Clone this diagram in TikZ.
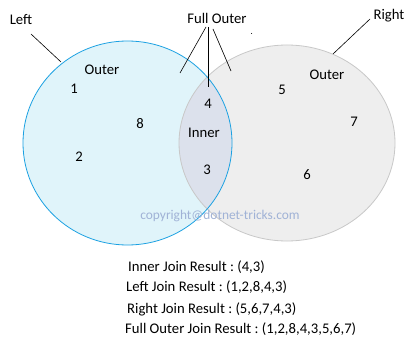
\documentclass[tikz,border=0pt]{standalone}
\usepackage{fontspec}
\setmainfont{Carlito}
\frenchspacing
\begin{document}
\begin{tikzpicture}[x=1pt,y=-1pt,
  lbl/.style={font=\fontsize{14.7}{17}\selectfont, inner sep=0pt},
  res/.style={font=\fontsize{14.7}{17}\selectfont\frenchspacing, inner sep=0pt, anchor=west},
  ptr/.style={draw=black, line width=0.6pt}]
\useasboundingbox (0,0) rectangle (409,339);
\fill[white] (0,0) rectangle (409,339);
% circles
\fill[fill={rgb,255:red,224;green,244;blue,250}] (127.5,143) ellipse [x radius=104.5, y radius=102];
\fill[fill={rgb,255:red,238;green,238;blue,238}] (287,143) ellipse [x radius=108, y radius=98];
\begin{scope}
  \clip (127.5,143) ellipse [x radius=104.5, y radius=102];
  \fill[fill={rgb,255:red,220;green,225;blue,236}] (287,143) ellipse [x radius=108, y radius=98];
\end{scope}
\draw[draw={rgb,255:red,200;green,200;blue,200}, line width=0.8pt] (287,143) ellipse [x radius=108, y radius=98];
\draw[draw={rgb,255:red,27;green,161;blue,226}, line width=0.8pt] (127.5,143) ellipse [x radius=104.5, y radius=102];
% labels
\node[lbl] (left) at (21,20) {Left};
\node[lbl] (full) at (217,18) {Full Outer};
\node[lbl] (right) at (389,16) {Right};
\coordinate (lp) at (61,62);
\coordinate (f1) at (180,73);
\coordinate (f2) at (208,87);
\coordinate (f3) at (231,71);
\coordinate (rp) at (333,54);
\draw[ptr] (31,34) -- (lp);
\draw[ptr] (206,27) -- (f1);
\draw[ptr] (208,27) -- (f2);
\draw[ptr] (213,29) -- (f3);
\draw[ptr] (370,19) -- (rp);
\fill (251.5,33.5) circle (0.5);
\node[lbl] (louter) at (102,70) {Outer};
\node[lbl] (n1) at (74,89) {1};
\node[lbl] (n8) at (140,124) {8};
\node[lbl] (n2) at (79,157) {2};
\node[lbl] (n4) at (208,104) {4};
\node[lbl] (inner) at (204,133) {Inner};
\node[lbl] (n3) at (207,170) {3};
\node[lbl] (n5) at (282,90) {5};
\node[lbl] (routers) at (327,75) {Outer};
\node[lbl] (n7) at (354,122) {7};
\node[lbl] (n6) at (307,175) {6};
\node[font=\fontsize{13.4}{15}\selectfont, inner sep=0pt, text={rgb,255:red,160;green,178;blue,214}] (copy) at (220,216) {copyright@dotnet-tricks.com};
\node[res] (r1) at (128,267) {Inner Join Result : (4,3)};
\node[res] (r2) at (126,287) {Left Join Result : (1,2,8,4,3)};
\node[res] (r3) at (127,309) {Right Join Result : (5,6,7,4,3)};
\node[res] (r4) at (125,329) {Full Outer Join Result : (1,2,8,4,3,5,6,7)};
\end{tikzpicture}
\end{document}
